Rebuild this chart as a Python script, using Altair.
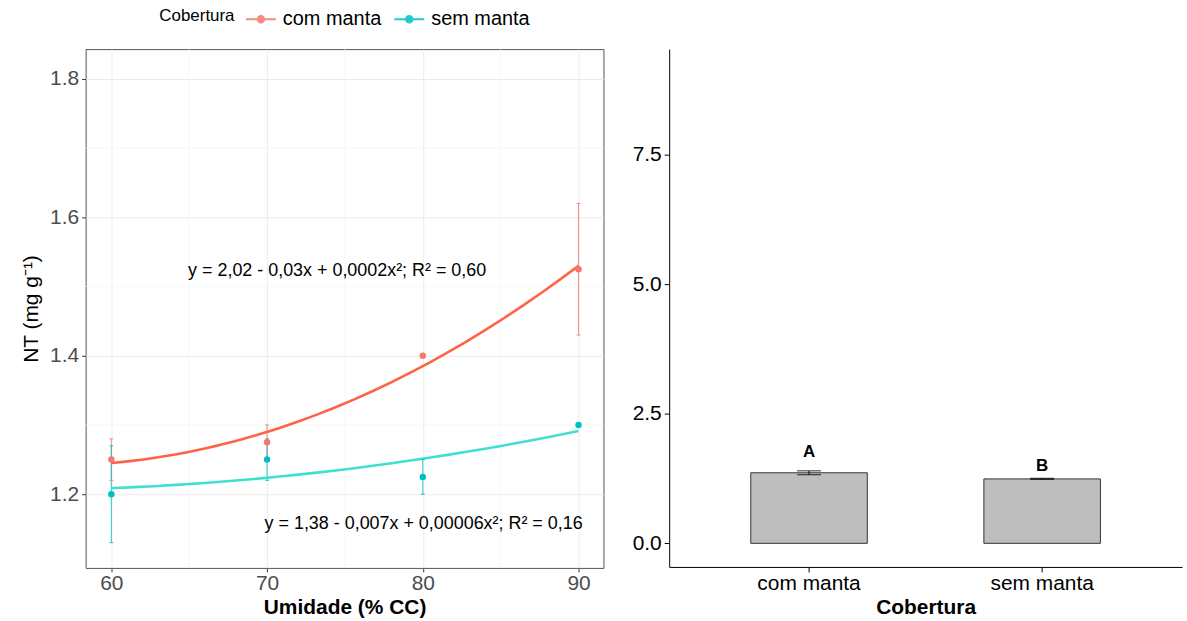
import altair as alt
import pandas as pd

# ---------------- data ----------------
cobertura = ["com manta", "sem manta"]
umidade = [60, 70, 80, 90]

nt_com = [1.25, 1.275, 1.40, 1.525]
nt_com_lo = [1.22, 1.25, 1.40, 1.43]
nt_com_hi = [1.28, 1.30, 1.40, 1.62]

nt_sem = [1.20, 1.25, 1.225, 1.30]
nt_sem_lo = [1.13, 1.22, 1.20, 1.30]
nt_sem_hi = [1.27, 1.28, 1.25, 1.30]

eq_text = ["y = 2,02 - 0,03x + 0,0002x²; R² = 0,60",
           "y = 1,38 - 0,007x + 0,00006x²; R² = 0,16"]
eq_x = [74.5, 80.05]
eq_y = [1.522, 1.157]

x_ticks = [60, 70, 80, 90]
y_ticks = [1.2, 1.4, 1.6, 1.8]
x_minor = [65, 75, 85]
y_minor = [1.3, 1.5, 1.7]

media = [1.3625, 1.24375]
media_lo = [1.325, 1.235]
media_hi = [1.40, 1.255]
letras = ["A", "B"]
letra_y = [1.76, 1.49]
bar_ticks = [0.0, 2.5, 5.0, 7.5]

# ---------------- tables ----------------
pts = pd.DataFrame({
    "Umidade": umidade * 2,
    "NT": nt_com + nt_sem,
    "lo": nt_com_lo + nt_sem_lo,
    "hi": nt_com_hi + nt_sem_hi,
    "Cobertura": [cobertura[0]] * 4 + [cobertura[1]] * 4,
})
eqs = pd.DataFrame({"x": eq_x, "y": eq_y, "t": eq_text})
mx = pd.DataFrame({"v": x_minor})
my = pd.DataFrame({"v": y_minor})
bars = pd.DataFrame({"Cobertura": cobertura, "m": media, "lo": media_lo,
                     "hi": media_hi, "let": letras, "ly": letra_y})

FONT = "Liberation Sans"
pt_colors = ["#F8766D", "#00BFC4"]
line_colors = ["#FF6347", "#40E0D0"]
FS = 21

xs = alt.Scale(domain=[58.35, 91.6], nice=False, zero=False)
ys = alt.Scale(domain=[1.0935, 1.843], nice=False, zero=False)

x_axis = alt.Axis(values=x_ticks, title="Umidade (% CC)", grid=True,
                  gridColor="#EBEBEB", domain=False, tickColor="#333333",
                  tickSize=4, labelColor="#4D4D4D", labelFontSize=FS,
                  labelFont=FONT, labelPadding=1, titleFont=FONT,
                  titleFontSize=FS, titleFontWeight="bold", titleColor="black",
                  titlePadding=3)
y_axis = alt.Axis(values=y_ticks, title="NT (mg g⁻¹)", grid=True,
                  gridColor="#EBEBEB", domain=False, tickColor="#333333",
                  tickSize=4, labelColor="#4D4D4D", labelFontSize=FS,
                  labelFont=FONT, labelPadding=3, titleFont=FONT,
                  titleFontSize=21, titleFontWeight="normal", titleColor="black",
                  titlePadding=8, format=".1f")

color_scale = alt.Scale(domain=cobertura, range=pt_colors)
legend = alt.Legend(orient="none", legendX=74, legendY=-46,
                    direction="horizontal", titleOrient="left",
                    title="Cobertura", titleFont=FONT,
                    titleFontSize=17, titleFontWeight="normal",
                    titleColor="black", labelFont=FONT, titlePadding=10,
                    labelFontSize=20, labelColor="black",
                    symbolType="M-1,0L1,0M0.22,0A0.22,0.22,0,1,1,-0.22,0A0.22,0.22,0,1,1,0.22,0",
                    symbolSize=900, symbolStrokeWidth=2,
                    columnPadding=9, labelOffset=6)
color_leg = alt.Color("Cobertura:N", scale=color_scale, legend=legend)
color_nol = alt.Color("Cobertura:N", scale=color_scale, legend=None)

minor_x = alt.Chart(mx).mark_rule(color="#F5F5F5", strokeWidth=0.8).encode(
    x=alt.X("v:Q", scale=xs, axis=x_axis))
minor_y = alt.Chart(my).mark_rule(color="#F5F5F5", strokeWidth=0.8).encode(
    y=alt.Y("v:Q", scale=ys, axis=y_axis))

fit = alt.Chart(pts).transform_regression(
    "Umidade", "NT", groupby=["Cobertura"], method="poly", order=2
).mark_line(strokeWidth=2.6).encode(
    x=alt.X("Umidade:Q", scale=xs),
    y=alt.Y("NT:Q", scale=ys),
    stroke=alt.Stroke("Cobertura:N", scale=alt.Scale(domain=cobertura, range=line_colors),
                      legend=None),
)

err = alt.Chart(pts).mark_rule(strokeWidth=1, opacity=0.85).encode(
    x=alt.X("Umidade:Q", scale=xs),
    y=alt.Y("lo:Q", scale=ys),
    y2="hi:Q",
    color=color_leg,
)
cap_lo = alt.Chart(pts).mark_tick(thickness=1, size=4, orient="horizontal", opacity=0.85).encode(
    x=alt.X("Umidade:Q", scale=xs), y=alt.Y("lo:Q", scale=ys), color=color_nol)
cap_hi = alt.Chart(pts).mark_tick(thickness=1, size=4, orient="horizontal", opacity=0.85).encode(
    x=alt.X("Umidade:Q", scale=xs), y=alt.Y("hi:Q", scale=ys), color=color_nol)
dots = alt.Chart(pts).mark_circle(size=42, opacity=1).encode(
    x=alt.X("Umidade:Q", scale=xs), y=alt.Y("NT:Q", scale=ys), color=color_nol)
eq = alt.Chart(eqs).mark_text(font=FONT, fontSize=18, color="black").encode(
    x=alt.X("x:Q", scale=xs), y=alt.Y("y:Q", scale=ys), text="t:N")

left = alt.layer(minor_x, minor_y, err, fit, cap_lo, cap_hi, dots, eq).properties(
    width=520, height=521,
    view=alt.ViewBackground(stroke="#555555", strokeWidth=1),
)

# -------- right panel --------
xb = alt.X("Cobertura:N", scale=alt.Scale(domain=cobertura, paddingInner=0.5, paddingOuter=0.35),
           axis=alt.Axis(title="Cobertura", labelAngle=0, labelFont=FONT, labelFontSize=FS,
                         labelColor="black", tickColor="black", tickSize=5, domainColor="black",
                         labelPadding=1, titleFont=FONT, titleFontSize=FS,
                         titleFontWeight="bold", titleColor="black", titlePadding=3))
ybs = alt.Scale(domain=[-0.456, 9.545], nice=False, zero=False)
yb_axis = alt.Axis(values=bar_ticks, title=None, format=".1f", labelFont=FONT,
                   labelFontSize=FS, labelColor="black", tickColor="black", tickSize=5,
                   domainColor="black", grid=False, labelPadding=3)

bar = alt.Chart(bars).mark_bar(fill="#BEBEBE", stroke="#333333", strokeWidth=1).encode(
    x=xb, y=alt.Y("m:Q", scale=ybs, axis=yb_axis), y2=alt.datum(0))
berr = alt.Chart(bars).mark_rule(color="black", strokeWidth=1).encode(
    x=alt.X("Cobertura:N"), y=alt.Y("lo:Q", scale=ybs), y2="hi:Q")
bcap_lo = alt.Chart(bars).mark_tick(color="black", thickness=1.2, size=24, orient="horizontal").encode(
    x=alt.X("Cobertura:N"), y=alt.Y("lo:Q", scale=ybs))
bcap_hi = alt.Chart(bars).mark_tick(color="black", thickness=1.2, size=24, orient="horizontal").encode(
    x=alt.X("Cobertura:N"), y=alt.Y("hi:Q", scale=ybs))
blet = alt.Chart(bars).mark_text(font=FONT, fontSize=17, fontWeight="bold", color="black").encode(
    x=alt.X("Cobertura:N"), y=alt.Y("ly:Q", scale=ybs), text="let:N")

right = alt.layer(bar, berr, bcap_lo, bcap_hi, blet).properties(
    width=515, height=520,
    view=alt.ViewBackground(stroke="transparent"),
)

chart = alt.hconcat(left, right, spacing=27).resolve_scale(
    color="independent", stroke="independent", x="independent", y="independent"
).properties(
    padding={"left": 20, "top": 1, "right": 4, "bottom": 4},
    background="white",
).configure_view(stroke=None)

chart.save("out.html", embed_options={"renderer": "svg", "actions": False})
